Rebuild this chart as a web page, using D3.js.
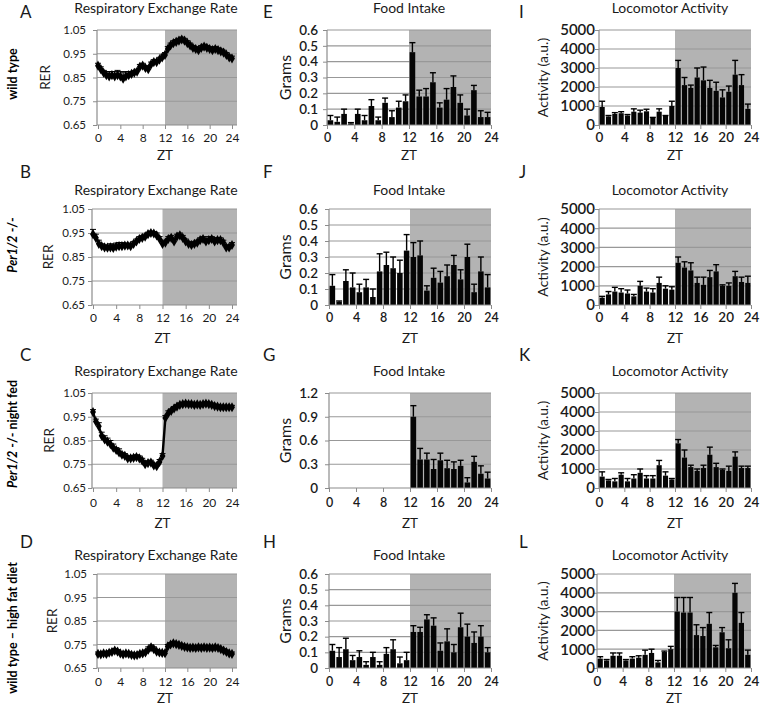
<!DOCTYPE html>
<html>
<head>
<meta charset="utf-8">
<script src="https://cdn.jsdelivr.net/npm/d3@7"></script>
<style>
  body { margin: 0; background: #fff; }
  svg { font-family: Lato, "Open Sans", sans-serif; }
</style>
</head>
<body>
<svg width="760" height="708"></svg>
<script>

// ---- data ----
const halfHours = d3.range(0, 24.5, 0.5);     // RER sampling (ZT)
const hourBins  = d3.range(0, 24);            // bar bins, start of each hour
const xTicks    = [0, 4, 8, 12, 16, 20, 24];

const rerTicks  = [0.65, 0.75, 0.85, 0.95, 1.05];
const gramTicks = [0, 0.1, 0.2, 0.3, 0.4, 0.5, 0.6];
const gramTicksG = [0, 0.3, 0.6, 0.9, 1.2];
const actTicks  = [0, 1000, 2000, 3000, 4000, 5000];

const rowNames = [
  [{t: 'wild type'}],
  [{t: 'Per1/2', i: 1}, {t: ' -/-'}],
  [{t: 'Per1/2', i: 1}, {t: ' -/- night fed'}],
  [{t: 'wild type \u2013 high fat diet'}]
];

// Respiratory exchange rate, every half hour
const rerWT = [0.900,0.885,0.870,0.860,0.855,0.860,0.855,0.860,0.855,0.845,
               0.855,0.860,0.865,0.870,0.875,0.895,0.900,0.890,0.885,0.905,
               0.915,0.915,0.925,0.935,0.945,0.970,0.985,0.995,1.000,1.005,
               1.010,1.005,0.995,0.985,0.975,0.970,0.965,0.975,0.980,0.975,
               0.970,0.965,0.970,0.965,0.960,0.955,0.945,0.935,0.930];
const rerWTerr = [0.010,0.010,0.010,0.015,0.020,0.015,0.020,0.020,0.020,0.025,
                  0.020,0.015,0.010,0.010,0.010,0.010,0.010,0.010,0.010,0.010,
                  0.010,0.010,0.010,0.010,0.010,0.010,0.010,0.010,0.010,0.010,
                  0.010,0.010,0.010,0.010,0.010,0.010,0.010,0.010,0.010,0.010,
                  0.010,0.010,0.010,0.010,0.010,0.010,0.010,0.010,0.010];

const rerPer = [0.945,0.930,0.905,0.895,0.890,0.889,0.890,0.888,0.893,0.895,
                0.895,0.897,0.898,0.895,0.905,0.915,0.925,0.930,0.935,0.945,
                0.950,0.948,0.940,0.925,0.905,0.910,0.925,0.930,0.915,0.935,
                0.940,0.930,0.915,0.905,0.900,0.905,0.910,0.920,0.925,0.915,
                0.920,0.925,0.915,0.920,0.920,0.910,0.890,0.890,0.900];
const rerPerErr = [0.020,0.015,0.015,0.010,0.010,0.010,0.015,0.015,0.015,0.015,
                   0.015,0.010,0.010,0.010,0.010,0.010,0.010,0.010,0.010,0.008,
                   0.008,0.008,0.010,0.010,0.010,0.010,0.010,0.010,0.010,0.010,
                   0.010,0.010,0.010,0.010,0.010,0.010,0.010,0.010,0.010,0.010,
                   0.015,0.010,0.015,0.010,0.010,0.010,0.010,0.010,0.010];

const rerNight = [0.970,0.930,0.910,0.870,0.855,0.845,0.835,0.820,0.810,0.800,
                  0.790,0.785,0.775,0.775,0.777,0.780,0.775,0.765,0.750,0.755,
                  0.757,0.745,0.742,0.760,0.785,0.945,0.965,0.975,0.985,0.993,
                  1.000,1.003,1.005,1.003,1.003,1.000,1.002,1.000,1.003,1.005,
                  1.003,1.000,0.995,0.993,0.990,0.990,0.990,0.990,0.990];
const rerNightErr = [0.010,0.010,0.015,0.015,0.015,0.015,0.015,0.015,0.010,0.015,
                     0.010,0.010,0.010,0.010,0.010,0.010,0.010,0.010,0.010,0.010,
                     0.010,0.010,0.010,0.010,0.010,0.010,0.010,0.008,0.008,0.008,
                     0.008,0.008,0.008,0.008,0.008,0.008,0.008,0.008,0.008,0.008,
                     0.008,0.008,0.008,0.008,0.008,0.008,0.008,0.008,0.008];

const rerHFD = [0.710,0.708,0.712,0.710,0.715,0.718,0.724,0.720,0.712,0.708,
                0.712,0.710,0.706,0.704,0.705,0.710,0.712,0.716,0.728,0.738,
                0.730,0.720,0.716,0.714,0.713,0.742,0.750,0.755,0.752,0.748,
                0.744,0.740,0.738,0.736,0.737,0.735,0.738,0.736,0.738,0.736,
                0.737,0.735,0.738,0.735,0.730,0.724,0.718,0.712,0.710];
const rerHFDerr = [0.008,0.008,0.008,0.008,0.008,0.008,0.008,0.008,0.008,0.008,
                   0.008,0.008,0.008,0.008,0.008,0.008,0.008,0.010,0.012,0.010,
                   0.010,0.008,0.008,0.008,0.008,0.008,0.008,0.008,0.008,0.008,
                   0.008,0.008,0.008,0.008,0.008,0.008,0.008,0.008,0.008,0.008,
                   0.008,0.008,0.008,0.008,0.008,0.008,0.008,0.008,0.008];

// Food intake (grams), hourly
const foodWT    = [0.03,0.02,0.07,0.01,0.07,0.03,0.12,0.03,0.14,0.05,0.11,0.15,
                   0.46,0.18,0.18,0.27,0.11,0.16,0.24,0.14,0.06,0.22,0.05,0.05];
const foodWTerr = [0.03,0.03,0.03,0.005,0.03,0.03,0.04,0.02,0.03,0.04,0.04,0.04,
                   0.06,0.04,0.05,0.06,0.03,0.07,0.07,0.05,0.04,0.03,0.04,0.03];
const foodPer    = [0.12,0.02,0.15,0.11,0.08,0.11,0.05,0.21,0.25,0.23,0.20,0.34,
                    0.30,0.31,0.09,0.17,0.14,0.18,0.25,0.16,0.30,0.08,0.21,0.11];
const foodPerErr = [0.07,0.005,0.07,0.09,0.05,0.05,0.05,0.11,0.08,0.07,0.08,0.10,
                    0.09,0.09,0.03,0.06,0.07,0.07,0.06,0.06,0.08,0.05,0.09,0.08];
const foodNight    = [0,0,0,0,0,0,0,0,0,0,0,0,
                      0.90,0.36,0.36,0.24,0.35,0.25,0.24,0.28,0.07,0.33,0.18,0.12];
const foodNightErr = [0,0,0,0,0,0,0,0,0,0,0,0,
                      0.14,0.14,0.08,0.12,0.09,0.10,0.09,0.07,0.06,0.07,0.10,0.08];
const foodHFD    = [0.11,0.07,0.12,0.05,0.07,0.02,0.07,0.02,0.09,0.12,0.03,0.05,
                    0.23,0.23,0.31,0.27,0.11,0.17,0.10,0.26,0.20,0.16,0.20,0.10];
const foodHFDerr = [0.04,0.06,0.07,0.03,0.04,0.02,0.03,0.02,0.04,0.06,0.04,0.05,
                    0.04,0.03,0.03,0.05,0.05,0.08,0.05,0.09,0.08,0.07,0.07,0.03];

// Locomotor activity (a.u.), hourly
const actWT    = [950,450,580,620,500,700,650,720,380,700,480,1000,
                  3000,2100,1950,2500,2350,1950,1800,1450,1750,2650,2100,850];
const actWTerr = [300,50,70,80,50,150,130,110,20,150,20,250,
                  400,400,150,500,700,400,450,400,300,750,550,250];
const actPer    = [380,550,700,650,600,450,1000,700,650,1150,850,800,
                   2200,1950,1800,1150,1050,1450,1750,1000,1000,1500,1200,1150];
const actPerErr = [70,150,220,200,180,100,230,180,200,300,150,150,
                   300,300,400,300,400,350,350,50,150,250,250,350];
const actNight    = [600,400,350,700,350,500,800,500,500,1200,650,450,
                     2350,1600,1100,900,1050,1750,1100,950,900,1650,1050,1050];
const actNightErr = [250,50,150,100,150,200,200,150,150,250,200,50,
                     200,400,100,100,150,400,200,50,250,250,100,100];
const actHFD    = [500,400,650,650,400,500,550,700,800,300,850,1000,
                   3000,2950,2950,1750,1700,2350,1100,1900,1050,4000,2400,700];
const actHFDerr = [100,50,150,150,50,100,100,250,200,100,50,150,
                   750,800,800,550,450,600,100,250,450,500,550,250];

// ---- layout ----
let svg = d3.select('svg');
const ink = '#1a1a1a';

const rows = [
  {top: 30,  bottom: 125, titleY: 13,  xLabY: 142, ztY: 160, letterY: 18,  nameY: 74},
  {top: 209, bottom: 305, titleY: 195, xLabY: 322, ztY: 343, letterY: 178, nameY: 245},
  {top: 393, bottom: 488, titleY: 376, xLabY: 507, ztY: 528, letterY: 361, nameY: 434},
  {top: 574, bottom: 668, titleY: 560, xLabY: 686, ztY: 703, letterY: 548, nameY: 628}
];

// draws the plot box: night shading, gridlines, axes and texts
function frame(o) {
  let g = svg.append('g');
  let x = d3.scaleLinear().domain([0, 24]).range([o.x0, o.x1]);
  let y = d3.scaleLinear().domain([o.ticks[0], o.ticks[o.ticks.length - 1]]).range([o.bottom, o.top]);

  g.append('rect')
    .attr('x', x(12)).attr('y', o.top)
    .attr('width', o.right - x(12)).attr('height', o.bottom - o.top)
    .attr('fill', '#b3b3b3');

  g.selectAll('line.grid')
    .data(o.ticks.slice(1))
    .enter().append('line')
    .attr('x1', o.left).attr('x2', o.right)
    .attr('y1', d => y(d)).attr('y2', d => y(d))
    .attr('stroke', '#989898').attr('stroke-width', 1.2);

  let ya = g.append('g')
    .attr('transform', 'translate(' + o.left + ',0)')
    .call(d3.axisLeft(y).tickValues(o.ticks).tickFormat(o.fmt)
      .tickSize(4).tickPadding(o.left - o.tickRight - 4));
  ya.attr('font-family', null).attr('font-size', o.tickFont);
  ya.select('.domain').remove();
  ya.selectAll('line').attr('stroke', '#8c8c8c');
  ya.selectAll('text').attr('fill', ink).attr('font-weight', o.tickWeight);

  let xa = g.append('g')
    .attr('transform', 'translate(0,' + o.bottom + ')')
    .call(d3.axisBottom(x).tickValues(xTicks).tickFormat(d3.format('d')).tickSize(4));
  xa.attr('font-family', null).attr('font-size', o.xTickFont);
  xa.select('.domain').remove();
  xa.selectAll('line').attr('stroke', '#8c8c8c');
  xa.selectAll('text').attr('fill', ink).attr('font-weight', o.tickWeight)
    .attr('y', o.xLabY - o.bottom).attr('dy', null);

  // axis lines
  g.append('line').attr('x1', o.left).attr('x2', o.left)
    .attr('y1', o.top).attr('y2', o.bottom).attr('stroke', '#8c8c8c').attr('stroke-width', 1.2);

  o.g = g; o.x = x; o.y = y;
  return o;
}

function texts(o) {
  svg.append('text')
    .attr('x', o.titleX).attr('y', o.titleY)
    .attr('text-anchor', 'middle').attr('font-size', 14).attr('fill', ink)
    .text(o.title);
  svg.append('text')
    .attr('x', o.letterX).attr('y', o.letterY)
    .attr('font-size', 17).attr('fill', ink)
    .text(o.letter);
  svg.append('text')
    .attr('transform', 'translate(' + o.yLabX + ',' + (o.top + o.bottom) / 2 + ') rotate(-90)')
    .attr('text-anchor', 'middle').attr('dominant-baseline', 'central')
    .attr('font-size', o.yLabFont).attr('fill', ink)
    .text(o.yLab);
  svg.append('text')
    .attr('x', (o.x(0) + o.x(24)) / 2).attr('y', o.ztY)
    .attr('text-anchor', 'middle').attr('font-size', 13.5).attr('fill', ink)
    .text('ZT');
}

function drawRER(o, vals, errs) {
  frame(o);
  let pts = halfHours.map((h, i) => ({h: h, v: vals[i], e: errs[i]}));
  let eb = o.g.append('g').attr('stroke', '#000').attr('stroke-width', 1);
  eb.selectAll('line.v').data(pts).enter().append('line')
    .attr('x1', d => o.x(d.h)).attr('x2', d => o.x(d.h))
    .attr('y1', d => o.y(d.v)).attr('y2', d => o.y(d.v + d.e));
  eb.selectAll('line.c').data(pts).enter().append('line')
    .attr('x1', d => o.x(d.h) - 3).attr('x2', d => o.x(d.h) + 3)
    .attr('y1', d => o.y(d.v + d.e)).attr('y2', d => o.y(d.v + d.e));

  o.g.append('path').datum(pts)
    .attr('d', d3.line().x(d => o.x(d.h)).y(d => o.y(d.v)))
    .attr('fill', 'none').attr('stroke', '#000').attr('stroke-width', 2.4);

  o.g.selectAll('path.m').data(pts).enter().append('path')
    .attr('d', d3.symbol(d3.symbolDiamond, 30))
    .attr('transform', d => 'translate(' + o.x(d.h) + ',' + o.y(d.v) + ')')
    .attr('fill', '#000');

  o.g.append('line').attr('x1', o.left).attr('x2', o.right)
    .attr('y1', o.bottom).attr('y2', o.bottom).attr('stroke', '#8c8c8c').attr('stroke-width', 1.2);
  texts(o);
}

function drawBars(o, vals, errs) {
  frame(o);
  let bars = hourBins.map((h, i) => ({h: h, v: vals[i], e: errs[i]}));
  o.g.selectAll('rect.bar').data(bars).enter().append('rect')
    .attr('x', d => o.x(d.h) + 0.6)
    .attr('width', d => o.x(d.h + 1) - o.x(d.h) - 1.2)
    .attr('y', d => o.y(d.v))
    .attr('height', d => o.y(0) - o.y(d.v))
    .attr('fill', '#050505');

  let withErr = bars.filter(d => d.e > 0);
  let eb = o.g.append('g').attr('stroke', '#000').attr('stroke-width', 1.4);
  eb.selectAll('line.v').data(withErr).enter().append('line')
    .attr('x1', d => o.x(d.h + 0.5)).attr('x2', d => o.x(d.h + 0.5))
    .attr('y1', d => o.y(d.v)).attr('y2', d => o.y(d.v + d.e));
  eb.selectAll('line.c').data(withErr).enter().append('line')
    .attr('x1', d => o.x(d.h + 0.5) - 3).attr('x2', d => o.x(d.h + 0.5) + 3)
    .attr('y1', d => o.y(d.v + d.e)).attr('y2', d => o.y(d.v + d.e));

  o.g.append('line').attr('x1', o.left).attr('x2', o.right)
    .attr('y1', o.bottom).attr('y2', o.bottom).attr('stroke', '#8c8c8c').attr('stroke-width', 1.2);
  texts(o);
}

// column settings
const rerLeft  = [97, 92, 92, 97];
const rerTickR = [86, 85, 86, 87];
const rerLabX  = [45, 48, 49, 52];
const foodLeft = [327, 329, 329, 329];
const actLeft  = [599, 599, 599, 597];

const rerSets  = [[rerWT, rerWTerr], [rerPer, rerPerErr], [rerNight, rerNightErr], [rerHFD, rerHFDerr]];
const foodSets = [[foodWT, foodWTerr], [foodPer, foodPerErr], [foodNight, foodNightErr], [foodHFD, foodHFDerr]];
const actSets  = [[actWT, actWTerr], [actPer, actPerErr], [actNight, actNightErr], [actHFD, actHFDerr]];

rows.forEach(function (r, i) {
  drawRER(Object.assign({}, r, {
    left: rerLeft[i], right: 237, x0: rerLeft[i] + 1, x1: 232,
    ticks: rerTicks, fmt: d3.format('.2f'), tickRight: rerTickR[i],
    tickFont: 11.5, xTickFont: 12, tickWeight: null,
    title: 'Respiratory Exchange Rate', titleX: 156,
    letter: 'ABCD'[i], letterX: 20,
    yLab: 'RER', yLabX: rerLabX[i], yLabFont: 13.5
  }), rerSets[i][0], rerSets[i][1]);

  drawBars(Object.assign({}, r, {
    left: foodLeft[i], right: 491, x0: foodLeft[i], x1: 491,
    ticks: i === 2 ? gramTicksG : gramTicks, fmt: d3.format(''), tickRight: 318,
    tickFont: 13.5, xTickFont: 12.5, tickWeight: 600,
    title: 'Food Intake', titleX: 409,
    letter: 'EFGH'[i], letterX: 263,
    yLab: 'Grams', yLabX: 284, yLabFont: 16
  }), foodSets[i][0], foodSets[i][1]);

  drawBars(Object.assign({}, r, {
    left: actLeft[i], right: 751, x0: actLeft[i], x1: 751,
    ticks: actTicks, fmt: d3.format('d'), tickRight: 595,
    tickFont: 15, xTickFont: 13.5, tickWeight: 600,
    title: 'Locomotor Activity', titleX: 670,
    letter: 'IJKL'[i], letterX: 519,
    yLab: 'Activity (a.u.)', yLabX: 542, yLabFont: 14
  }), actSets[i][0], actSets[i][1]);

  // genotype label on the far left
  svg.append('text')
    .attr('transform', 'translate(12,' + r.nameY + ') rotate(-90)')
    .attr('text-anchor', 'middle').attr('dominant-baseline', 'central')
    .attr('font-size', 12.5).attr('font-weight', 'bold').attr('fill', '#000')
    .selectAll('tspan')
    .data(rowNames[i])
    .enter().append('tspan')
    .attr('font-style', d => d.i ? 'italic' : null)
    .text(d => d.t);
});

</script>
</body>
</html>
